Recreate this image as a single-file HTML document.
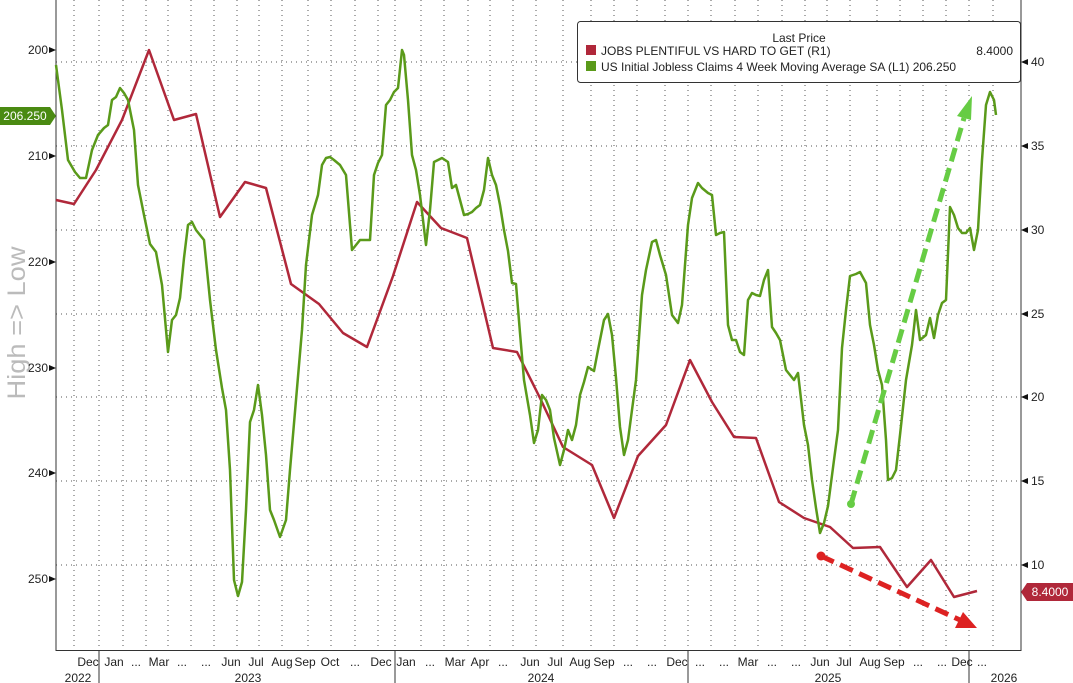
<!DOCTYPE html>
<html><head><meta charset="utf-8"><style>
body{margin:0;background:#fff}
svg{display:block;font-family:"Liberation Sans",sans-serif}
</style></head><body>
<svg width="1073" height="683" viewBox="0 0 1073 683">
<rect width="1073" height="683" fill="#fff"/>
<text transform="translate(25,323) rotate(-90)" font-size="25" fill="#bbb" text-anchor="middle" textLength="153" lengthAdjust="spacingAndGlyphs">High =&gt; Low</text>
<g stroke="#555" stroke-width="1" stroke-dasharray="1,4">
<line x1="56" y1="62" x2="1021" y2="62"/><line x1="56" y1="146" x2="1021" y2="146"/>
<line x1="56" y1="230" x2="1021" y2="230"/><line x1="56" y1="314" x2="1021" y2="314"/>
<line x1="56" y1="397" x2="1021" y2="397"/><line x1="56" y1="481" x2="1021" y2="481"/>
<line x1="56" y1="565" x2="1021" y2="565"/>
</g>
<g stroke="#555" stroke-dasharray="1,4">
<line x1="74" y1="0" x2="74" y2="650"/><line x1="99" y1="0" x2="99" y2="650"/><line x1="123" y1="0" x2="123" y2="650"/><line x1="146" y1="0" x2="146" y2="650"/><line x1="168" y1="0" x2="168" y2="650"/><line x1="191" y1="0" x2="191" y2="650"/><line x1="214" y1="0" x2="214" y2="650"/><line x1="237" y1="0" x2="237" y2="650"/><line x1="259" y1="0" x2="259" y2="650"/><line x1="282" y1="0" x2="282" y2="650"/><line x1="308" y1="0" x2="308" y2="650"/><line x1="331" y1="0" x2="331" y2="650"/><line x1="355" y1="0" x2="355" y2="650"/><line x1="378" y1="0" x2="378" y2="650"/><line x1="395" y1="0" x2="395" y2="650"/><line x1="421" y1="0" x2="421" y2="650"/><line x1="444" y1="0" x2="444" y2="650"/><line x1="468" y1="0" x2="468" y2="650"/><line x1="490" y1="0" x2="490" y2="650"/><line x1="513" y1="0" x2="513" y2="650"/><line x1="536" y1="0" x2="536" y2="650"/><line x1="563" y1="0" x2="563" y2="650"/><line x1="591" y1="0" x2="591" y2="650"/><line x1="614" y1="0" x2="614" y2="650"/><line x1="637" y1="0" x2="637" y2="650"/><line x1="665" y1="0" x2="665" y2="650"/><line x1="688" y1="0" x2="688" y2="650"/><line x1="711" y1="0" x2="711" y2="650"/><line x1="735" y1="0" x2="735" y2="650"/><line x1="758" y1="0" x2="758" y2="650"/><line x1="782" y1="0" x2="782" y2="650"/><line x1="805" y1="0" x2="805" y2="650"/><line x1="827" y1="0" x2="827" y2="650"/><line x1="850" y1="0" x2="850" y2="650"/><line x1="877" y1="0" x2="877" y2="650"/><line x1="900" y1="0" x2="900" y2="650"/><line x1="923" y1="0" x2="923" y2="650"/><line x1="946" y1="0" x2="946" y2="650"/><line x1="969" y1="0" x2="969" y2="650"/><line x1="993" y1="0" x2="993" y2="650"/>
</g>
<line x1="56" y1="0" x2="56" y2="651" stroke="#333"/>
<line x1="1021" y1="0" x2="1021" y2="651" stroke="#333"/>
<line x1="56" y1="650.5" x2="1021" y2="650.5" stroke="#333"/>
<g fill="#111">
<polygon points="49,47 56,50 49,53"/><polygon points="49,153 56,156 49,159"/><polygon points="49,259 56,262 49,265"/><polygon points="49,365 56,368 49,371"/><polygon points="49,470 56,473 49,476"/><polygon points="49,576 56,579 49,582"/>
<polygon points="1028,59 1021,62 1028,65"/><polygon points="1028,143 1021,146 1028,149"/><polygon points="1028,227 1021,230 1028,233"/><polygon points="1028,311 1021,314 1028,317"/><polygon points="1028,394 1021,397 1028,400"/><polygon points="1028,478 1021,481 1028,484"/><polygon points="1028,562 1021,565 1028,568"/>
</g>
<g stroke="#333">
<line x1="99" y1="651" x2="99" y2="683"/><line x1="395" y1="651" x2="395" y2="683"/><line x1="688" y1="651" x2="688" y2="683"/><line x1="969" y1="651" x2="969" y2="683"/>
</g>
<g font-size="12" fill="#222" text-anchor="end">
<text x="48" y="54">200</text><text x="48" y="160">210</text><text x="48" y="266">220</text><text x="48" y="372">230</text><text x="48" y="477">240</text><text x="48" y="583">250</text>
</g>
<g font-size="12" fill="#222">
<text x="1031" y="66">40</text><text x="1031" y="150">35</text><text x="1031" y="234">30</text><text x="1031" y="318">25</text><text x="1031" y="401">20</text><text x="1031" y="485">15</text><text x="1031" y="569">10</text>
</g>
<g font-size="12" fill="#222" text-anchor="middle">
<text x="88" y="666">Dec</text><text x="114" y="666">Jan</text><text x="136" y="666">...</text><text x="159" y="666">Mar</text><text x="182" y="666">...</text><text x="206" y="666">...</text><text x="231" y="666">Jun</text><text x="256" y="666">Jul</text><text x="282" y="666">Aug</text><text x="305" y="666">Sep</text><text x="330" y="666">Oct</text><text x="355" y="666">...</text><text x="381" y="666">Dec</text><text x="406" y="666">Jan</text><text x="430" y="666">...</text><text x="455" y="666">Mar</text><text x="480" y="666">Apr</text><text x="503" y="666">...</text><text x="530" y="666">Jun</text><text x="555" y="666">Jul</text><text x="580" y="666">Aug</text><text x="604" y="666">Sep</text><text x="628" y="666">...</text><text x="652" y="666">...</text><text x="677" y="666">Dec</text><text x="700" y="666">...</text><text x="724" y="666">...</text><text x="748" y="666">Mar</text><text x="772" y="666">...</text><text x="796" y="666">...</text><text x="820" y="666">Jun</text><text x="844" y="666">Jul</text><text x="870" y="666">Aug</text><text x="894" y="666">Sep</text><text x="918" y="666">...</text><text x="942" y="666">...</text><text x="962" y="666">Dec</text><text x="982" y="666">...</text>
<text x="78" y="682">2022</text><text x="248" y="682">2023</text><text x="541" y="682">2024</text><text x="828" y="682">2025</text><text x="1004" y="682">2026</text>
</g>
<polyline fill="none" stroke="#b0283a" stroke-width="2.5" stroke-linejoin="round" points="56,200 74,204 96,170 122,120 149,50 174,120 196,114 220,217 245,182 266,188 291,284 319,304 343,333 367,347 393,276 417,202 441,228 467,238 493,348 517,352 540,398 563,447 592,465 614,518 638,456 666,425 690,360 712,402 734,437 756,438 779,502 804,518 830,527 853,548 880,547 907,587 931,560 954,597 977,591"/>
<polyline fill="none" stroke="#5a9a1a" stroke-width="2.5" stroke-linejoin="round" points="56,65 62,110 68,160 75,172 80,178 86,178 92,150 98,135 104,128 108,125 112,100 116,97 120,88 124,93 128,100 134,130 138,185 144,215 150,244 156,252 162,285 168,352 172,320 176,315 180,298 184,258 188,225 192,222 196,230 204,240 210,300 216,350 222,388 226,410 230,470 234,580 238,596 242,582 246,510 250,422 254,410 258,385 262,415 266,455 270,510 274,520 280,537 286,520 290,470 296,400 302,330 306,265 312,215 318,195 322,165 326,158 330,157 334,160 340,165 346,175 352,250 356,245 360,240 364,240 370,240 374,175 378,163 382,155 386,105 390,100 394,92 398,88 402,50 404,55 408,100 412,155 416,170 420,195 426,245 430,210 434,162 438,160 442,158 448,162 452,188 456,185 460,200 464,215 468,214 472,212 476,208 480,205 484,190 488,158 492,175 496,185 500,205 504,230 508,251 512,283 516,284 520,333 524,380 530,415 534,443 538,430 542,395 546,400 550,410 554,438 560,465 564,450 568,430 572,440 576,425 580,395 584,382 588,367 594,371 598,350 604,320 608,314 612,335 616,378 620,427 624,455 628,440 632,410 636,380 642,295 646,270 652,242 656,240 660,255 666,275 672,315 678,323 682,305 688,225 692,198 698,183 702,188 708,193 712,195 716,235 720,233 724,232 728,325 732,340 736,340 740,352 744,355 748,300 752,293 756,295 760,296 764,280 768,270 772,327 776,333 780,340 786,370 790,375 794,380 798,373 804,425 808,445 812,480 816,508 820,533 824,523 828,506 834,460 838,430 842,348 846,310 850,276 856,274 860,272 866,283 870,325 874,345 878,370 882,385 886,440 888,480 892,478 896,470 900,435 906,380 912,345 916,310 920,340 926,335 930,318 934,338 938,315 942,303 946,300 950,207 954,215 958,228 962,233 966,233 970,228 974,250 978,230 982,160 986,105 990,92 994,100 996,115"/>
<line x1="851" y1="504" x2="964" y2="118" stroke="#66cc44" stroke-width="5" stroke-dasharray="14,7"/>
<polygon points="972,96 957,116 971,120" fill="#66cc44"/>
<circle cx="851" cy="504" r="4" fill="#66cc44"/>
<line x1="821" y1="556" x2="960" y2="620" stroke="#dd2222" stroke-width="5" stroke-dasharray="14,7"/>
<polygon points="977,628 955,628 963,612" fill="#dd2222"/>
<circle cx="821" cy="556" r="4.5" fill="#dd2222"/>
<rect x="577.5" y="21.5" width="443" height="61" rx="3" fill="#fff" stroke="#333"/>
<text x="799" y="42" font-size="12" fill="#222" text-anchor="middle">Last Price</text>
<rect x="586" y="45" width="10" height="10" fill="#b0283a"/>
<rect x="586" y="61" width="10" height="10" fill="#5a9a1a"/>
<text x="601" y="55" font-size="12" fill="#222">JOBS PLENTIFUL VS HARD TO GET  (R1)</text>
<text x="1013" y="55" font-size="12" fill="#222" text-anchor="end">8.4000</text>
<text x="601" y="71" font-size="12" fill="#222">US Initial Jobless Claims 4 Week Moving Average SA  (L1) 206.250</text>
<rect x="0" y="107" width="50" height="18" fill="#4a8a12"/>
<polygon points="50,107 56,116 50,125" fill="#4a8a12"/>
<text x="25" y="120" font-size="12" fill="#fff" text-anchor="middle">206.250</text>
<rect x="1027" y="583" width="46" height="18" fill="#b0283a"/>
<polygon points="1027,583 1021,592 1027,601" fill="#b0283a"/>
<text x="1050" y="596" font-size="12" fill="#fff" text-anchor="middle">8.4000</text>
</svg>
</body></html>
